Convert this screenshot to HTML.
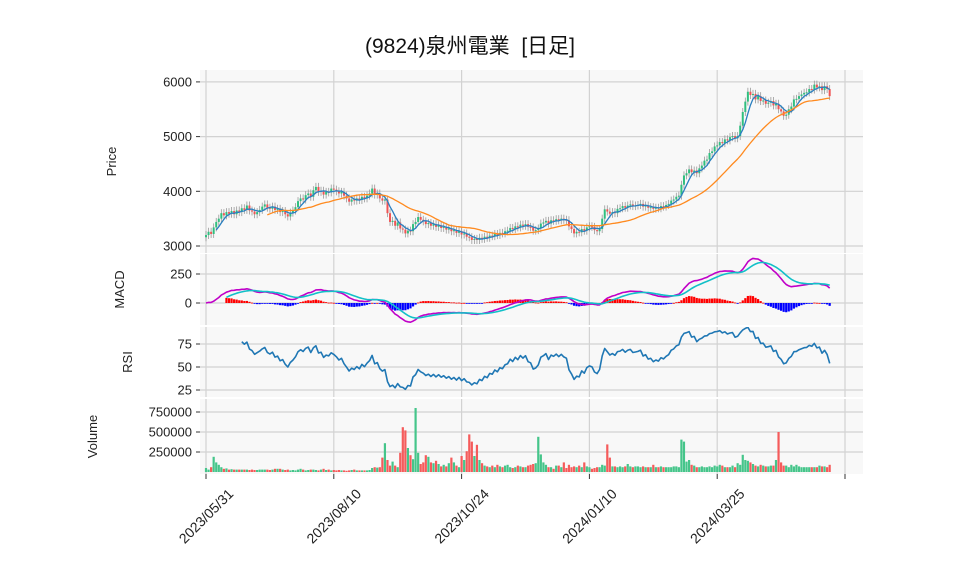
<!DOCTYPE html>
<html><head><meta charset="utf-8">
<style>
html,body{margin:0;padding:0;background:#fff;}
svg{display:block;font-family:"Liberation Sans","Noto Sans CJK JP",sans-serif;}
</style></head>
<body>
<svg id="chart" width="958" height="575" viewBox="0 0 958 575">
<text x="470" y="53" font-size="21" text-anchor="middle" fill="#111">(9824)泉州電業&#160;&#160;[日足]</text>
<defs><clipPath id="rsiclip"><rect x="200" y="327" width="663" height="70"/></clipPath></defs>
<g id="panels"></g>
<g id="marks"></g>
<g id="axes"></g>
</svg>
<script>
const closes = [
3200,3260,3220,3340,3440,3500,3600,3560,3620,3590,
3640,3580,3650,3620,3690,3660,3740,3650,3630,3580,
3620,3660,3720,3760,3700,3680,3720,3660,3680,3620,
3640,3580,3540,3610,3650,3710,3820,3870,3850,3930,
3960,3900,4020,4080,3990,4010,3940,3990,3980,4050,
4030,4000,3960,3990,3920,3870,3810,3850,3830,3870,
3840,3900,3870,3920,3960,4050,3940,3960,3870,3830,
3850,3600,3440,3460,3370,3430,3320,3300,3230,3280,
3270,3400,3440,3530,3480,3450,3400,3420,3370,3400,
3350,3380,3330,3350,3300,3320,3270,3290,3240,3270,
3210,3230,3170,3160,3110,3130,3110,3150,3130,3170,
3150,3190,3180,3220,3200,3240,3230,3270,3280,3330,
3310,3360,3340,3390,3370,3400,3350,3340,3280,3290,
3320,3410,3430,3460,3410,3470,3460,3490,3470,3500,
3480,3470,3360,3310,3230,3260,3250,3310,3280,3340,
3360,3350,3290,3270,3310,3500,3670,3630,3590,3620,
3600,3680,3690,3730,3700,3740,3760,3730,3740,3750,
3770,3720,3740,3700,3710,3680,3700,3690,3730,3720,
3750,3770,3830,3850,3900,3920,4120,4290,4330,4400,
4350,4380,4330,4420,4470,4560,4580,4700,4730,4820,
4840,4900,4880,4950,4930,4990,5010,4970,5010,5200,
5450,5640,5820,5760,5780,5680,5740,5650,5660,5600,
5620,5650,5570,5600,5500,5460,5380,5400,5500,5550,
5680,5690,5740,5770,5800,5810,5870,5860,5950,5900,
5920,5850,5920,5870,5740];
const volumesK = [
50,30,60,190,120,90,60,40,45,30,
35,30,30,30,30,30,30,25,30,25,
25,30,30,30,30,25,30,40,40,40,
30,25,30,20,25,20,30,40,30,20,
25,30,30,25,20,30,40,25,30,20,
25,20,25,20,20,15,20,25,30,20,
20,20,20,20,25,50,60,55,60,180,
360,150,80,130,80,60,240,560,520,300,
210,160,800,240,100,120,210,190,120,110,
140,100,70,90,70,110,180,120,80,60,
200,150,260,470,380,200,340,150,110,80,
70,60,80,60,90,70,60,80,90,60,
50,60,80,70,60,60,80,90,100,110,
440,220,120,90,60,60,40,80,80,60,
120,50,90,60,70,60,80,60,120,70,
60,40,50,60,60,90,80,345,180,70,
70,60,70,60,70,100,70,60,70,70,
60,70,60,60,60,90,60,60,70,60,
60,60,60,70,70,60,405,380,130,150,
90,80,60,60,70,60,60,70,60,80,
70,90,80,60,60,60,80,60,110,90,
215,150,140,120,100,80,70,90,80,70,
70,80,80,150,500,120,80,80,60,90,
70,90,70,60,60,60,60,60,60,60,
80,70,70,60,90];
const dateLabels = ["2023/05/31","2023/08/10","2023/10/24","2024/01/10","2024/03/25",""];
const dateTickIdx = [0,50,100,150,200,250];
const priceTicks = [3000,4000,5000,6000];
const macdTicks = [0,250];
const rsiTicks = [25,50,75];
const volTicks = [250000,500000,750000];

const NS="http://www.w3.org/2000/svg";
const X0=200,X1=863;
const xOf=i=>206+i*2.556;
const yP=p=>246-(p-3000)*0.0547;
const yM=v=>303-v*29/250;
const yR=v=>367-(v-50)*23/25;
const yV=v=>472-v*20/250000;
function mk(tag,attrs,parent){const e=document.createElementNS(NS,tag);for(const k in attrs)e.setAttribute(k,attrs[k]);parent.appendChild(e);return e;}
const panels=document.getElementById('panels'),marks=document.getElementById('marks'),axes=document.getElementById('axes');

const panelDefs=[
 {name:'price-panel',y0:70,y1:253,ticks:priceTicks,f:yP,title:'Price',tx:116},
 {name:'macd-panel',y0:254,y1:325,ticks:macdTicks,f:yM,title:'MACD',tx:124},
 {name:'rsi-panel',y0:327,y1:397,ticks:rsiTicks,f:yR,title:'RSI',tx:132},
 {name:'volume-panel',y0:399,y1:474,ticks:volTicks,f:yV,title:'Volume',tx:97}];
panelDefs.forEach(pd=>{
 const r=mk('rect',{x:X0,y:pd.y0,width:X1-X0,height:pd.y1-pd.y0,fill:'#f8f8f8'},panels);
 
 
 dateTickIdx.forEach(i=>{mk('line',{x1:xOf(i),x2:xOf(i),y1:pd.y0,y2:pd.y1,stroke:'#d2d2d2','stroke-width':1.2},panels);});
 pd.ticks.forEach(v=>{
  const y=pd.f(v);
  mk('line',{x1:X0,x2:X1,y1:y,y2:y,stroke:'#d2d2d2','stroke-width':1.2},panels);
  mk('line',{x1:X0-4,x2:X0,y1:y,y2:y,stroke:'#333','stroke-width':1},axes);
  const t=mk('text',{x:X0-8,y:y+4.5,'font-size':13,'text-anchor':'end',fill:'#222'},axes);
  t.textContent=String(v);
  
  
 });
 const cy=(pd.y0+pd.y1)/2;
 const tt=mk('text',{x:pd.tx,y:cy,'font-size':13,'text-anchor':'middle',fill:'#222',transform:`rotate(-90 ${pd.tx} ${cy})`},axes);
 tt.textContent=pd.title;
 
 
});
dateTickIdx.forEach((i,k)=>{
 const x=xOf(i);
 mk('line',{x1:x,x2:x,y1:474,y2:479,stroke:'#333','stroke-width':1},axes);
 if(dateLabels[k]){
  const t=mk('text',{x:x,y:521,'font-size':14,'text-anchor':'middle',fill:'#222',transform:`rotate(-45 ${x} 516)`},axes);
  t.textContent=dateLabels[k];
  
  
 }
});
const N=closes.length;
for(let i=0;i<N;i++){
 const o=i>0?closes[i-1]:closes[i]-40, c=closes[i];
 const up=c>=o, x=xOf(i);
 const yt=yP(Math.max(o,c)), yb=yP(Math.min(o,c));
 mk('line',{x1:x,x2:x,y1:yt-4,y2:yb+4,stroke:'#999','stroke-width':0.8},marks);
 const b=mk('rect',{x:x-1,y:yt,width:2,height:Math.max(1,yb-yt),fill:up?'#2fbf7f':'#f05454'},marks);
 
 
 const vv=volumesK[i]*1000;
 const vb=mk('rect',{x:x-1.1,y:yV(vv),width:2.2,height:472-yV(vv),fill:up?'#45c58a':'#f55b5b'},marks);
 
 
}
function sma(n){const r=[];for(let i=0;i<N;i++){if(i<n-1){r.push(null);continue;}let s=0;for(let j=i-n+1;j<=i;j++)s+=closes[j];r.push(s/n);}return r;}
function ema(arr,n){const a=2/(n+1);const r=[];let p=arr[0];for(let i=0;i<arr.length;i++){p=i===0?arr[0]:a*arr[i]+(1-a)*p;r.push(p);}return r;}
function poly(vals,f,start,color,w,name,parent){
 let d='';vals.forEach((v,i)=>{if(v==null||i<start)return;d+=(d?'L':'M')+xOf(i).toFixed(1)+','+f(v).toFixed(1);});
 const p=mk('path',{d:d,fill:'none',stroke:color,'stroke-width':w,'stroke-linejoin':'round'},parent||marks);
 
 
}
poly(sma(5),yP,4,'#2a7fc0',1.3,'ma5-line');
poly(sma(25),yP,24,'#ff8a1f',1.3,'ma25-line');
const e12=ema(closes,12),e26=ema(closes,26);
const macd=closes.map((c,i)=>e12[i]-e26[i]);
const sig=ema(macd,9);
for(let i=8;i<N;i++){
 const h=macd[i]-sig[i];const y0=yM(0),y=yM(h);
 const r=mk('rect',{x:xOf(i)-1.1,y:Math.min(y,y0),width:2.2,height:Math.max(0.8,Math.abs(y-y0)),fill:h>=0?'#ff0000':'#0000ff'},marks);
 
 
}
poly(macd,yM,0,'#c000c8',1.6,'macd-line');
poly(sig,yM,8,'#12c0c8',1.6,'signal-line');
// RSI (Wilder smoothing)
const rsi=[];let ag=0,al=0;
for(let i=0;i<N;i++){
 if(i===0){rsi.push(null);continue;}
 const d=closes[i]-closes[i-1],g=d>0?d:0,l=d<0?-d:0;
 if(i<=14){ag+=g/14;al+=l/14;}else{ag=(ag*13+g)/14;al=(al*13+l)/14;}
 rsi.push(i<14?null:(al===0?100:100-100/(1+ag/al)));
}
const rg=mk('g',{'clip-path':'url(#rsiclip)'},marks);
poly(rsi,yR,14,'#1f77b4',1.6,'rsi-line',rg);
</script>
</body></html>
